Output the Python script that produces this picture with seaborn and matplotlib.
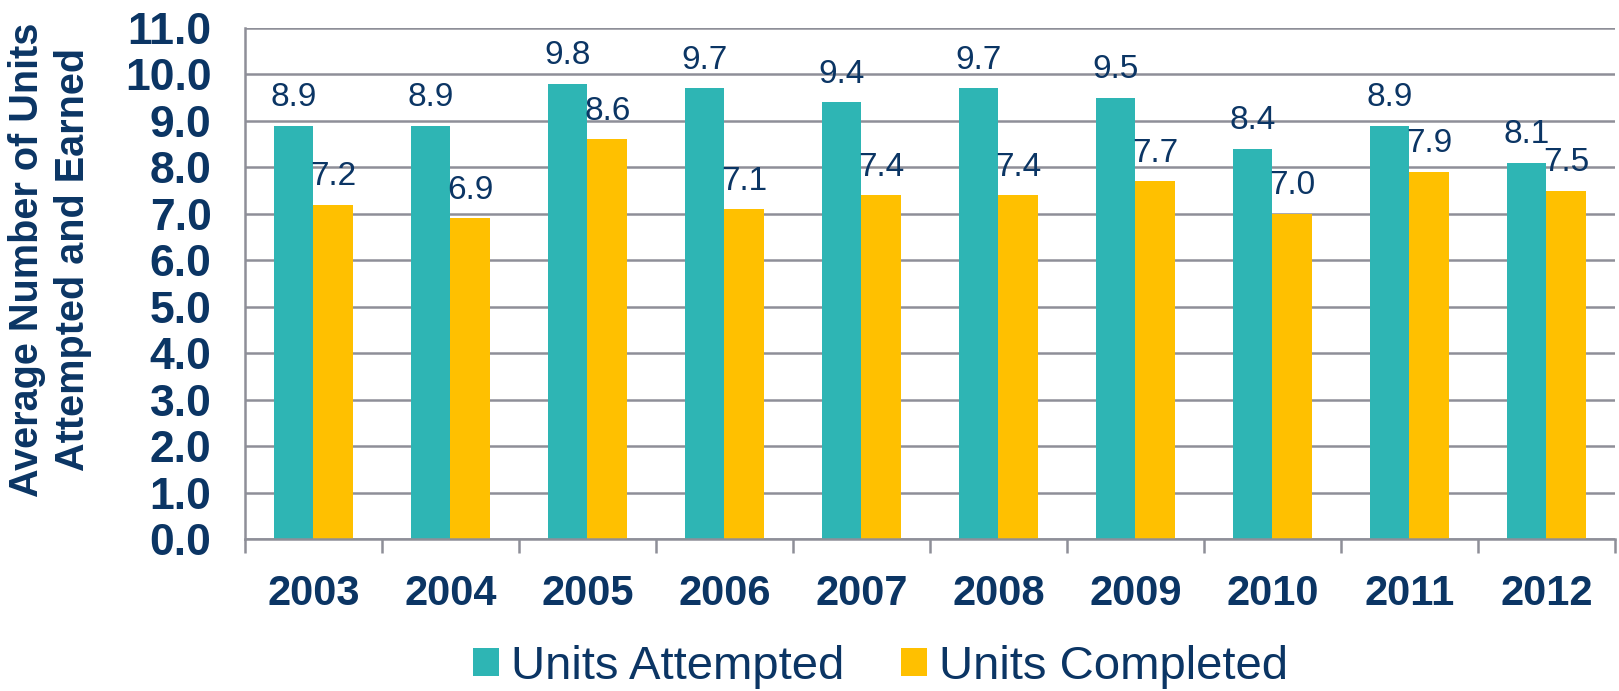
import numpy as np
import pandas as pd
import seaborn as sns
import matplotlib.pyplot as plt

# data
years = ["2003", "2004", "2005", "2006", "2007", "2008", "2009", "2010", "2011", "2012"]
attempted = [8.9, 8.9, 9.8, 9.7, 9.4, 9.7, 9.5, 8.4, 8.9, 8.1]
completed = [7.2, 6.9, 8.6, 7.1, 7.4, 7.4, 7.7, 7.0, 7.9, 7.5]
series = ["Units Attempted", "Units Completed"]

df = pd.DataFrame({
    "year": years * 2,
    "units": attempted + completed,
    "series": [series[0]] * len(years) + [series[1]] * len(years),
})

navy = "#0B3564"
grey = "#8E8F98"
palette = {series[0]: "#2EB5B4", series[1]: "#FFC000"}

sns.set_style("white")
plt.rcParams["font.family"] = ["Liberation Sans", "DejaVu Sans"]

fig = plt.figure(figsize=(16.19, 6.91), dpi=100)
ax = fig.add_axes([0.1513, 0.22, 0.8462, 0.7395])

sns.barplot(data=df, x="year", y="units", hue="series", palette=palette,
            width=0.58, saturation=1, linewidth=0, ax=ax, legend=True)

for cont in ax.containers:
    ax.bar_label(cont, fmt="%.1f", padding=9, fontsize=24, color=navy)

ax.set_ylim(0, 11)
ax.set_xlim(-0.5, len(years) - 0.5)
ax.set_yticks(np.arange(0, 12, 1))
ax.set_yticklabels([f"{v:.1f}" for v in range(12)])
ax.set_xticks(np.arange(-0.5, len(years), 1), minor=True)

ax.yaxis.grid(True, color=grey, linewidth=1.8)
ax.set_axisbelow(True)
for s in ["top", "right"]:
    ax.spines[s].set_visible(False)
for s in ["left", "bottom"]:
    ax.spines[s].set_color(grey)
    ax.spines[s].set_linewidth(1.8)

ax.tick_params(axis="y", which="major", length=10, width=1.8, color=grey,
               pad=14, labelsize=32, labelcolor=navy)
ax.tick_params(axis="x", which="major", length=0, pad=25, labelsize=30,
               labelcolor=navy)
ax.tick_params(axis="x", which="minor", length=10, width=1.8, color=grey,
               direction="out", bottom=True)
for lab in ax.get_xticklabels() + ax.get_yticklabels():
    lab.set_fontweight("bold")

ax.set_xlabel("")
ax.set_ylabel("")
fig.text(0.031, 0.624, "Average Number of Units\nAttempted and Earned",
         rotation=90, ha="center", va="center", fontsize=28.5,
         fontweight="bold", color=navy, linespacing=1.25)

ax.get_legend().remove()
handles, labels = ax.get_legend_handles_labels()
leg = fig.legend(handles, labels, loc="center", bbox_to_anchor=(0.544, 0.035),
                 ncol=2, frameon=False, fontsize=34, handlelength=0.55,
                 handleheight=0.55, handletextpad=0.25, columnspacing=1.2)
for t in leg.get_texts():
    t.set_color(navy)

fig.savefig("out.png", dpi=100)
